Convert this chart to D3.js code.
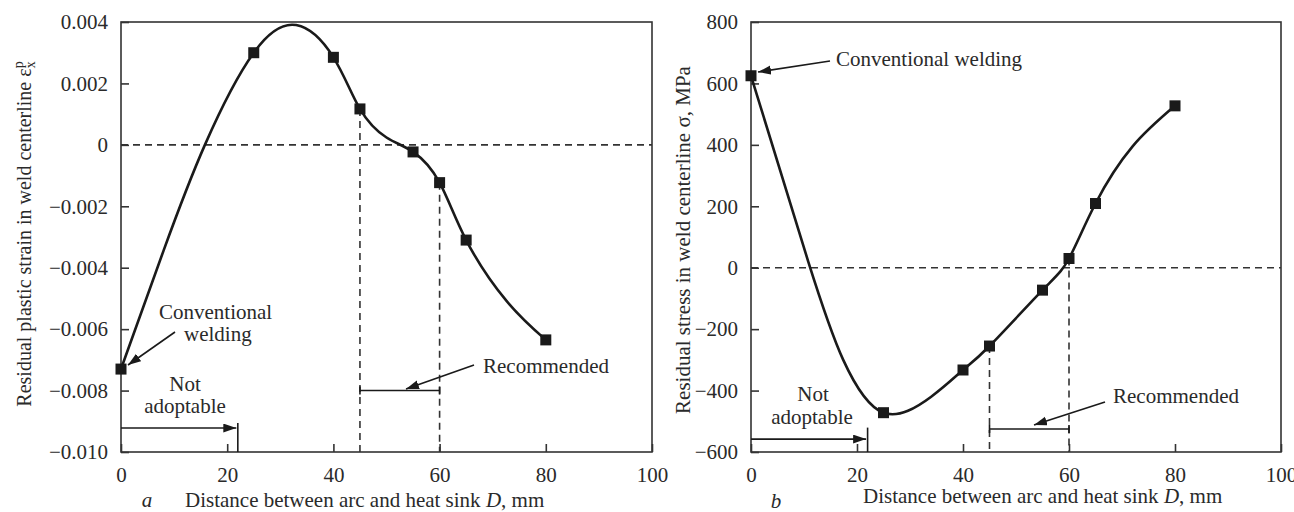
<!DOCTYPE html>
<html>
<head>
<meta charset="utf-8">
<script src="https://cdn.jsdelivr.net/npm/d3@7"></script>
<style>
body { margin: 0; background: #fff; }
svg text { font-family: "Liberation Serif", "Times New Roman", serif; fill: #2a2a2a; }
</style>
</head>
<body>
<svg id="chart" width="1294" height="512"></svg>
<script>
// eje x comun (distancia arco - sumidero, mm)
var distTicks = [0, 20, 40, 60, 80, 100];

// panel a: deformacion plastica residual
var strainTicks = [-0.010, -0.008, -0.006, -0.004, -0.002, 0, 0.002, 0.004];
var strainD   = [0, 25, 40, 45, 55, 60, 65, 80];
var strainVal = [-0.0073, 0.0030, 0.00285, 0.00117, -0.00023, -0.00123, -0.0031, -0.00635];
// puntos de la curva ajustada
var strainCurveD   = [0, 8, 15.8, 25, 33, 40, 45, 50, 55, 60, 65, 72.6, 80];
var strainCurveVal = [-0.0073, -0.00345, 0, 0.003, 0.0039, 0.00285, 0.00117, 0.00024, -0.00023, -0.00123, -0.0031, -0.00508, -0.00635];

// panel b: tension residual
var stressTicks = [-600, -400, -200, 0, 200, 400, 600, 800];
var stressD   = [0, 25, 40, 45, 55, 60, 65, 80];
var stressVal = [625, -472, -333, -255, -73, 30, 209, 527];
var stressCurveD   = [0, 10.8, 17.4, 25, 34, 40, 45, 55, 60, 65, 72, 80];
var stressCurveVal = [625, 20, -300, -472, -420, -333, -255, -73, 30, 209, 395, 527];

// zonas
var notAdoptableD = 22;
var recommendedD = [45, 60];

var svg = d3.select("#chart");

var defs = svg.append("defs");
defs.append("marker")
    .attr("id", "arrow")
    .attr("markerUnits", "userSpaceOnUse")
    .attr("markerWidth", 14).attr("markerHeight", 10)
    .attr("refX", 13).attr("refY", 4.5)
    .attr("orient", "auto")
  .append("path")
    .attr("d", "M0,0 L13,4.5 L0,9 z")
    .attr("fill", "#1a1a1a");

var axisFmtStrain = function(d) { return d === 0 ? "0" : d3.format(".3f")(d); };
var axisFmtStress = d3.format("d");

/******************************** PANEL ********************************/
function drawPanel(p) {
  var x = d3.scaleLinear().domain([0, 100]).range(p.xr);
  var y = d3.scaleLinear().domain(p.yDom).range([452, 22]);
  var g = svg.append("g");

  // linea del cero
  g.append("line")
    .attr("x1", x(0)).attr("x2", x(100))
    .attr("y1", y(0)).attr("y2", y(0))
    .attr("stroke", "#333").attr("stroke-width", 1.6)
    .attr("stroke-dasharray", "7,5");

  // verticales de la zona recomendada
  recommendedD.forEach(function(dd) {
    var v = p.val[p.D.indexOf(dd)];
    g.append("line")
      .attr("x1", x(dd)).attr("x2", x(dd))
      .attr("y1", y(v)).attr("y2", y(p.yDom[0]))
      .attr("stroke", "#333").attr("stroke-width", 1.6)
      .attr("stroke-dasharray", "7,5");
  });

  // marco
  g.append("rect")
    .attr("x", x(0)).attr("y", y(p.yDom[1]))
    .attr("width", x(100) - x(0)).attr("height", y(p.yDom[0]) - y(p.yDom[1]))
    .attr("fill", "none").attr("stroke", "#333").attr("stroke-width", 1.6);

  // ejes con ticks hacia dentro
  var xAxis = d3.axisBottom(x).tickValues(distTicks).tickSize(-8).tickPadding(18).tickFormat(d3.format("d"));
  var gx = g.append("g").attr("transform", "translate(0," + y(p.yDom[0]) + ")").call(xAxis);
  var yAxis = d3.axisLeft(y).tickValues(p.yTicks).tickSize(-8).tickPadding(13).tickFormat(p.fmt);
  var gy = g.append("g").attr("transform", "translate(" + x(0) + ",0)").call(yAxis);
  [gx, gy].forEach(function(a) {
    a.select(".domain").remove();
    a.selectAll(".tick line").attr("stroke", "#333").attr("stroke-width", 1.6);
    a.selectAll(".tick text").attr("font-size", 21).attr("fill", "#2a2a2a")
      .style("font-family", "Liberation Serif");
  });
  gx.selectAll(".tick text").attr("dy", "0.55em");

  // curva
  var pts = p.cD.map(function(d, i) { return [d, p.cV[i]]; });
  var line = d3.line()
    .x(function(d) { return x(d[0]); })
    .y(function(d) { return y(d[1]); })
    .curve(d3.curveNatural);
  g.append("path").datum(pts)
    .attr("d", line)
    .attr("fill", "none").attr("stroke", "#1a1a1a").attr("stroke-width", 2.6);

  // marcadores
  g.selectAll(".mk").data(p.D).enter().append("rect")
    .attr("class", "mk")
    .attr("x", function(d) { return x(d) - 5.5; })
    .attr("y", function(d, i) { return y(p.val[i]) - 5.5; })
    .attr("width", 11).attr("height", 11)
    .attr("fill", "#1a1a1a");

  // no adoptable
  var ya = y(p.naY);
  g.append("line")
    .attr("x1", x(0)).attr("x2", x(notAdoptableD) - 1.5)
    .attr("y1", ya).attr("y2", ya)
    .attr("stroke", "#1a1a1a").attr("stroke-width", 1.6)
    .attr("marker-end", "url(#arrow)");
  g.append("line")
    .attr("x1", x(notAdoptableD)).attr("x2", x(notAdoptableD))
    .attr("y1", ya - p.naBar).attr("y2", y(p.yDom[0]))
    .attr("stroke", "#1a1a1a").attr("stroke-width", 1.6);

  // recomendado
  var yr = y(p.recY);
  g.append("line")
    .attr("x1", x(recommendedD[0])).attr("x2", x(recommendedD[1]))
    .attr("y1", yr).attr("y2", yr)
    .attr("stroke", "#1a1a1a").attr("stroke-width", 1.6);
  recommendedD.forEach(function(dd) {
    g.append("line")
      .attr("x1", x(dd)).attr("x2", x(dd))
      .attr("y1", yr - 4).attr("y2", yr + 4)
      .attr("stroke", "#1a1a1a").attr("stroke-width", 1.6);
  });

  // flechas de anotacion
  p.arrows.forEach(function(a) {
    g.append("line")
      .attr("x1", a[0]).attr("y1", a[1]).attr("x2", a[2]).attr("y2", a[3])
      .attr("stroke", "#1a1a1a").attr("stroke-width", 1.6)
      .attr("marker-end", "url(#arrow)");
  });

  // textos
  p.texts.forEach(function(t) {
    g.append("text")
      .attr("x", t.x).attr("y", t.y)
      .attr("text-anchor", t.anchor || "start")
      .attr("font-size", 21)
      .text(t.s);
  });

  // titulo eje x
  g.append("text")
    .attr("x", p.letter[0]).attr("y", p.letter[1])
    .attr("text-anchor", "middle")
    .attr("font-size", 21).attr("font-style", "italic")
    .text(p.letter[2]);
  var xt = g.append("text")
    .attr("x", p.xTitle[0]).attr("y", p.xTitle[1])
    .attr("font-size", 21);
  xt.append("tspan").text("Distance between arc and heat sink ");
  xt.append("tspan").attr("font-style", "italic").text("D");
  xt.append("tspan").text(", mm");

  // titulo eje y
  var yt = g.append("text")
    .attr("transform", "translate(" + p.yTitle[0] + "," + p.yTitle[1] + ") rotate(-90)")
    .attr("text-anchor", "middle")
    .attr("font-size", p.yTitleSize);
  p.yTitleFn(yt);

  return { x: x, y: y };
}

drawPanel({
  xr: [121, 652],
  yDom: [-0.010, 0.004],
  yTicks: strainTicks,
  fmt: axisFmtStrain,
  D: strainD, val: strainVal,
  cD: strainCurveD, cV: strainCurveVal,
  naY: -0.00922, naBar: 5,
  recY: -0.008,
  arrows: [[175, 332, 128, 365], [474, 365, 406, 389]],
  texts: [
    { x: 159, y: 319, s: "Conventional" },
    { x: 184, y: 341, s: "welding" },
    { x: 185, y: 391, s: "Not", anchor: "middle" },
    { x: 185, y: 413, s: "adoptable", anchor: "middle" },
    { x: 483, y: 373, s: "Recommended" }
  ],
  letter: [147, 507, "a"],
  xTitle: [185, 507],
  yTitle: [31, 234],
  yTitleSize: 20,
  yTitleFn: function(t) {
    t.append("tspan").text("Residual plastic strain in weld centerline \u03b5");
    t.append("tspan").attr("font-size", 14).attr("dy", 4).text("x");
    t.append("tspan").attr("font-size", 14).attr("dx", -7).attr("dy", -12).text("p");
  }
});

drawPanel({
  xr: [751, 1281],
  yDom: [-600, 800],
  yTicks: stressTicks,
  fmt: axisFmtStress,
  D: stressD, val: stressVal,
  cD: stressCurveD, cV: stressCurveVal,
  naY: -558, naBar: 11.5,
  recY: -525,
  arrows: [[830, 61, 758, 72], [1105, 402, 1034, 425]],
  texts: [
    { x: 836, y: 66, s: "Conventional welding" },
    { x: 813, y: 401, s: "Not", anchor: "middle" },
    { x: 812, y: 424, s: "adoptable", anchor: "middle" },
    { x: 1113, y: 403, s: "Recommended" }
  ],
  letter: [776, 508, "b"],
  xTitle: [863, 503],
  yTitle: [690, 240],
  yTitleSize: 21,
  yTitleFn: function(t) {
    t.text("Residual stress in weld centerline \u03c3, MPa");
  }
});
</script>
</body>
</html>
